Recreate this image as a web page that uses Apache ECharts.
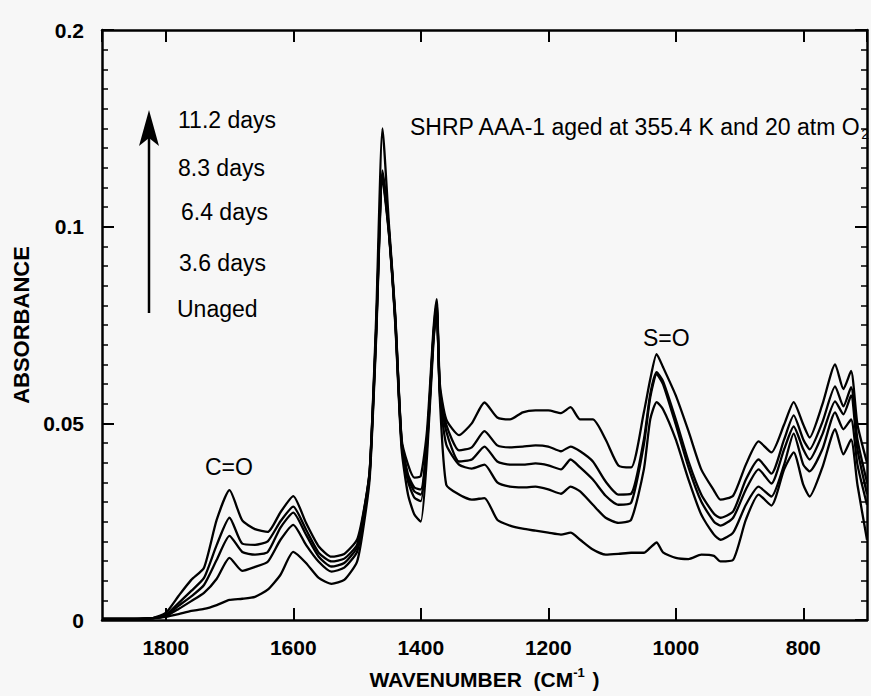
<!DOCTYPE html>
<html>
<head>
<meta charset="utf-8">
<script src="https://cdn.jsdelivr.net/npm/echarts@6/dist/echarts.min.js"></script>
<style>
html,body{margin:0;padding:0;background:#f7f7f7;}
#chart{width:871px;height:696px;}
</style>
</head>
<body>
<div id="chart"></div>
<script>
// ---- data (wavenumber in cm-1, absorbance) ----
const wavenumbers = [1900, 1850, 1820, 1800, 1780, 1760, 1740, 1720, 1700, 1680,
  1660, 1640, 1620, 1600, 1580, 1560, 1540, 1520, 1500, 1490,
  1480, 1470, 1460, 1450, 1440, 1430, 1420, 1410, 1400, 1390,
  1380, 1375, 1370, 1360, 1340, 1320, 1300, 1280, 1260, 1240,
  1220, 1200, 1180, 1165, 1150, 1130, 1110, 1090, 1070, 1050,
  1040, 1030, 1020, 1000, 980, 960, 940, 930, 910, 890,
  870, 850, 830, 815, 800, 790, 770, 750, 737, 725,
  715, 700];

const days11_2 = [0.0003, 0.0003, 0.0005, 0.0018, 0.0061, 0.0102, 0.0133, 0.0255, 0.033, 0.0253,
  0.0231, 0.0224, 0.0274, 0.0315, 0.0247, 0.0187, 0.0161, 0.0168, 0.0204, 0.0273,
  0.038, 0.0765, 0.125, 0.1008, 0.0778, 0.0459, 0.0395, 0.0362, 0.0366, 0.0485,
  0.074, 0.0816, 0.06, 0.051, 0.047, 0.050, 0.0553, 0.0515, 0.051, 0.0528,
  0.0533, 0.0533, 0.0526, 0.0541, 0.051, 0.051, 0.0459, 0.0393, 0.0388, 0.0528,
  0.0612, 0.0676, 0.0643, 0.0571, 0.048, 0.0383, 0.0329, 0.0306, 0.0316, 0.0395,
  0.0454, 0.0426, 0.0497, 0.0554, 0.0497, 0.0464, 0.0548, 0.065, 0.0587, 0.0633,
  0.0497, 0.040];

const days8_3 = [0.0003, 0.0003, 0.0005, 0.0013, 0.0043, 0.0074, 0.0107, 0.0191, 0.026, 0.0194,
  0.0191, 0.02, 0.0251, 0.0288, 0.023, 0.0171, 0.0149, 0.0156, 0.0191, 0.0268,
  0.0383, 0.074, 0.1143, 0.0995, 0.077, 0.0454, 0.037, 0.0337, 0.0332, 0.0459,
  0.0727, 0.0804, 0.0587, 0.0497, 0.0431, 0.0439, 0.048, 0.0444, 0.0439, 0.0441,
  0.0444, 0.0441, 0.0429, 0.0441, 0.0429, 0.0403, 0.0352, 0.0319, 0.0321, 0.0459,
  0.0574, 0.063, 0.0607, 0.051, 0.0403, 0.0319, 0.027, 0.026, 0.0276, 0.0357,
  0.0408, 0.0372, 0.0459, 0.052, 0.0459, 0.0434, 0.0503, 0.0594, 0.0543, 0.0592,
  0.0459, 0.035];

const days6_4 = [0.0003, 0.0003, 0.0005, 0.0012, 0.0036, 0.006, 0.0089, 0.0153, 0.0214, 0.0173,
  0.0166, 0.0173, 0.0235, 0.0273, 0.0217, 0.0161, 0.0136, 0.0145, 0.0184, 0.0263,
  0.0378, 0.0732, 0.1135, 0.099, 0.0765, 0.0452, 0.0362, 0.0327, 0.0319, 0.0454,
  0.0722, 0.0798, 0.0582, 0.048, 0.0403, 0.0408, 0.0441, 0.0403, 0.0395, 0.0395,
  0.0398, 0.0393, 0.0383, 0.0408, 0.0388, 0.0357, 0.0316, 0.0293, 0.0298, 0.0446,
  0.0566, 0.0625, 0.06, 0.0497, 0.0388, 0.0301, 0.025, 0.024, 0.026, 0.0332,
  0.0383, 0.0347, 0.0434, 0.0492, 0.0434, 0.0408, 0.0472, 0.0556, 0.0523, 0.0571,
  0.0434, 0.032];

const days3_6 = [0.0003, 0.0003, 0.0005, 0.001, 0.0028, 0.0048, 0.0069, 0.0105, 0.0158, 0.0125,
  0.0135, 0.0148, 0.0204, 0.0242, 0.0191, 0.0148, 0.0123, 0.0133, 0.0173, 0.0255,
  0.0372, 0.0727, 0.113, 0.0987, 0.076, 0.0446, 0.0352, 0.0311, 0.0302, 0.0446,
  0.0717, 0.0793, 0.0574, 0.0446, 0.0395, 0.0385, 0.0395, 0.035, 0.0339, 0.0337,
  0.0339, 0.0332, 0.0321, 0.0339, 0.0327, 0.0293, 0.026, 0.0247, 0.0255, 0.0383,
  0.051, 0.0554, 0.0536, 0.0459, 0.0357, 0.0268, 0.0217, 0.0204, 0.0222, 0.0293,
  0.0339, 0.0314, 0.0395, 0.0474, 0.0395, 0.0378, 0.0434, 0.0528, 0.0485, 0.051,
  0.0395, 0.0293];

const unaged = [0.0003, 0.0003, 0.0005, 0.0008, 0.0015, 0.0023, 0.0028, 0.0038, 0.0051, 0.0054,
  0.0059, 0.0077, 0.0115, 0.0173, 0.0145, 0.0107, 0.0092, 0.0102, 0.0148, 0.0235,
  0.0362, 0.0714, 0.1122, 0.0982, 0.0753, 0.0434, 0.0319, 0.0268, 0.025, 0.0421,
  0.0709, 0.0786, 0.0561, 0.0344, 0.0319, 0.0306, 0.031, 0.0255, 0.024, 0.0232,
  0.0227, 0.0222, 0.0217, 0.0222, 0.0204, 0.0179, 0.0166, 0.0168, 0.0171, 0.0171,
  0.0184, 0.0197, 0.0172, 0.0158, 0.0155, 0.0166, 0.0163, 0.0149, 0.0153, 0.0255,
  0.0319, 0.0291, 0.0383, 0.0426, 0.0344, 0.0314, 0.0388, 0.0485, 0.0421, 0.0459,
  0.0344, 0.0204];

const seriesNames = ['11.2 days', '8.3 days', '6.4 days', '3.6 days', 'Unaged'];
const seriesValues = [days11_2, days8_3, days6_4, days3_6, unaged];

const xTickValues = [1800, 1600, 1400, 1200, 1000, 800];
const yTickValues = [0, 0.05, 0.1, 0.15];
const yTickLabels = ['0', '0.05', '0.1', '0.2'];

// ---- chart ----
const FONT = '"Liberation Sans", Arial, Helvetica, sans-serif';
const chart = echarts.init(document.getElementById('chart'), null, {renderer: 'svg'});

const axisLineStyle = {color: '#000', width: 2.5};
const tickStyle = {color: '#000', width: 2};

function yLabel(v) {
  const i = yTickValues.findIndex(t => Math.abs(t - v) < 1e-9);
  return i >= 0 ? yTickLabels[i] : '';
}
function xLabel(v) {
  return xTickValues.indexOf(Math.round(v)) >= 0 ? String(Math.round(v)) : '';
}

const baseX = {
  type: 'value', min: 700, max: 1900, inverse: true, splitNumber: 6,
  splitLine: {show: false},
  axisLine: {show: true, onZero: false, lineStyle: axisLineStyle},
  axisTick: {show: true, inside: true, length: 12, lineStyle: tickStyle}
};
const baseY = {
  type: 'value', min: 0, max: 0.15, interval: 0.05,
  splitLine: {show: false},
  axisLine: {show: true, onZero: false, lineStyle: axisLineStyle},
  axisTick: {show: true, inside: true, length: 12, lineStyle: tickStyle},
  minorTick: {show: true, splitNumber: 10, length: 6, lineStyle: {color: '#000', width: 1.5}}
};

const option = {
  backgroundColor: '#f7f7f7',
  animation: false,
  grid: {left: 102, right: 4, top: 30, bottom: 76, containLabel: false, outerBoundsMode: 'none'},
  xAxis: [
    Object.assign({}, baseX, {
      position: 'bottom',
      axisLabel: {show: true, formatter: xLabel, margin: 17, color: '#000',
        fontFamily: FONT, fontWeight: 'bold', fontSize: 21, showMinLabel: false, showMaxLabel: false},
      name: '{b|WAVENUMBER  (CM}{s|-1}{b| )}',
      nameLocation: 'middle', nameGap: 46,
      nameTextStyle: {
        rich: {
          b: {fontFamily: FONT, fontWeight: 'bold', fontSize: 21, color: '#000'},
          s: {fontFamily: FONT, fontWeight: 'bold', fontSize: 13, color: '#000', padding: [0, 2, 14, 0]}
        }
      }
    }),
    Object.assign({}, baseX, {position: 'top', axisLabel: {show: false}})
  ],
  yAxis: [
    Object.assign({}, baseY, {
      position: 'left',
      axisLabel: {show: true, formatter: yLabel, margin: 18, color: '#000',
        fontFamily: FONT, fontWeight: 'bold', fontSize: 21},
      name: 'ABSORBANCE', nameLocation: 'middle', nameGap: 70, nameRotate: 90,
      nameTextStyle: {fontFamily: FONT, fontWeight: 'bold', fontSize: 22, color: '#000'}
    }),
    Object.assign({}, baseY, {position: 'right', axisLabel: {show: false}})
  ],
  series: seriesNames.map((name, k) => ({
    name: name,
    type: 'line',
    xAxisIndex: 0, yAxisIndex: 0,
    data: wavenumbers.map((w, i) => [w, seriesValues[k][i]]),
    showSymbol: false,
    smooth: 0.2,
    lineStyle: {color: '#000', width: 2.3},
    itemStyle: {color: '#000'},
    z: 3
  })),
  graphic: [
    {type: 'line', shape: {x1: 149, y1: 313, x2: 149, y2: 136}, style: {stroke: '#000', lineWidth: 2.5}},
    {type: 'polygon', shape: {points: [[149, 110], [159, 146], [149, 138], [139, 146]]}, style: {fill: '#000'}},
    {type: 'text', x: 178, y: 120, style: {text: '11.2 days', font: '23px ' + FONT, fill: '#000', verticalAlign: 'middle'}},
    {type: 'text', x: 178, y: 168, style: {text: '8.3 days', font: '23px ' + FONT, fill: '#000', verticalAlign: 'middle'}},
    {type: 'text', x: 181, y: 212, style: {text: '6.4 days', font: '23px ' + FONT, fill: '#000', verticalAlign: 'middle'}},
    {type: 'text', x: 179, y: 263, style: {text: '3.6 days', font: '23px ' + FONT, fill: '#000', verticalAlign: 'middle'}},
    {type: 'text', x: 177, y: 309, style: {text: 'Unaged', font: '23px ' + FONT, fill: '#000', verticalAlign: 'middle'}},
    {type: 'text', x: 205, y: 467, style: {text: 'C=O', font: '23px ' + FONT, fill: '#000', verticalAlign: 'middle'}},
    {type: 'text', x: 643, y: 338, style: {text: 'S=O', font: '23px ' + FONT, fill: '#000', verticalAlign: 'middle'}},
    {type: 'text', x: 410, y: 127, style: {
      text: '{n|SHRP AAA-1 aged at 355.4 K and 20 atm O}{sub|2}',
      verticalAlign: 'middle',
      rich: {
        n: {fontFamily: FONT, fontSize: 23, fill: '#000', color: '#000'},
        sub: {fontFamily: FONT, fontSize: 14, fill: '#000', color: '#000', padding: [14, 0, 0, 0]}
      }
    }}
  ]
};
chart.setOption(option);
</script>
</body>
</html>
